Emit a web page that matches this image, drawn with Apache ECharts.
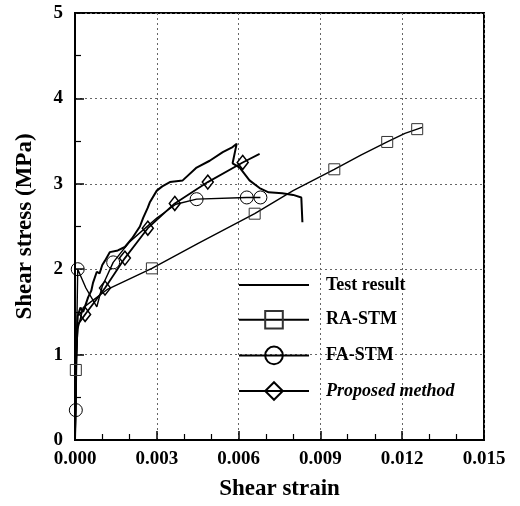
<!DOCTYPE html>
<html><head><meta charset="utf-8">
<script src="https://cdn.jsdelivr.net/npm/echarts@6/dist/echarts.min.js"></script>
<style>html,body{margin:0;padding:0;background:#fff}#c{width:520px;height:506px}</style>
</head><body><div id="c"></div>
<script>
// Test result (x strain, y MPa)
const testX = [0,0.00003,0.00005,0.00008,0.0001,0.0002,0.0003,0.00048,0.0006,0.00066,0.0008,0.0009,0.001,0.0011,0.00128,0.00157,0.00183,0.00209,0.00238,0.0025,0.00267,0.00274,0.003,0.0032,0.00348,0.00395,0.00446,0.00494,0.00542,0.00578,0.00593,0.00578,0.00604,0.0064,0.00677,0.0071,0.0076,0.0080,0.0083,0.00834];
const testY = [0,0.5,1.0,1.3,1.45,1.55,1.5,1.67,1.75,1.84,1.97,1.95,2.05,2.1,2.2,2.22,2.26,2.36,2.5,2.6,2.72,2.78,2.92,2.97,3.02,3.04,3.19,3.27,3.37,3.43,3.47,3.24,3.19,3.04,2.95,2.9,2.89,2.87,2.84,2.55];

const raX = [0,0.00003,0.0001,0.0003,0.00117,0.00282,0.0045,0.00659,0.008,0.00951,0.0105,0.01145,0.0121,0.01255,0.01273];
const raY = [0,0.82,1.3,1.55,1.76,2.01,2.3,2.65,2.92,3.17,3.34,3.49,3.59,3.64,3.66];
const raMark = [0,1,0,0,0,1,0,1,0,1,0,1,0,1,0];

const faX = [0,0.00003,0.00006,0.0001,0.0004,0.0008,0.001,0.0014,0.002,0.003,0.0037,0.00446,0.0063,0.0068];
const faY = [0,0.35,1.2,2.0,1.78,1.56,1.8,2.08,2.32,2.6,2.76,2.82,2.84,2.84];
const faMark = [0,1,0,1,0,0,0,1,0,0,0,1,1,1];

const pmX = [0,0.00005,0.0001,0.00037,0.0011,0.00183,0.00267,0.00366,0.00487,0.00615,0.00677];
const pmY = [0,1.0,1.35,1.47,1.78,2.13,2.48,2.77,3.02,3.25,3.35];
const pmMark = [0,0,0,1,1,1,1,1,1,1,0];

const xTicks = ['0.000','0.003','0.006','0.009','0.012','0.015'];
const yTicks = ['0','1','2','3','4','5'];

function pts(xs, ys, marks){
  return xs.map((x,i)=> (marks && marks[i]) ? {value:[x,ys[i]]} : {value:[x,ys[i]], symbol:'none'});
}
const serif = '"Liberation Serif","DejaVu Serif",serif';
const chart = echarts.init(document.getElementById('c'));
chart.setOption({
  animation:false,
  backgroundColor:'#fff',
  grid:{left:75,right:36,top:13,bottom:66,show:true,borderColor:'#000',borderWidth:2,backgroundColor:'transparent'},
  legend:{
    orient:'vertical', left:233, top:271, itemWidth:70, itemHeight:22, itemGap:16,
    data:[{name:'Test result',itemStyle:{color:'rgba(0,0,0,0)',borderColor:'rgba(0,0,0,0)',borderWidth:0}},
          'RA-STM','FA-STM','Proposed method'],
    formatter: n => n==='Proposed method' ? '{i|'+n+'}' : '{b|'+n+'}',
    textStyle:{color:'#000', padding:[0,0,0,12],
      rich:{b:{fontFamily:serif,fontWeight:'bold',fontSize:18,color:'#000'},
            i:{fontFamily:serif,fontWeight:'bold',fontStyle:'italic',fontSize:18,color:'#000'}}}
  },
  xAxis:{
    type:'value', min:0, max:0.015, interval:0.003,
    name:'Shear strain', nameLocation:'middle', nameGap:38,
    nameTextStyle:{fontFamily:serif,fontWeight:'bold',fontSize:23,color:'#000'},
    axisLine:{lineStyle:{color:'#000',width:2}},
    axisTick:{inside:true,length:9,lineStyle:{color:'#000',width:1.5}},
    minorTick:{show:true,splitNumber:3,length:6,lineStyle:{color:'#000',width:1.2}},
    axisLabel:{margin:10,fontFamily:serif,fontWeight:'bold',fontSize:19,color:'#000',
      formatter:(v)=>xTicks[Math.round(v/0.003)]},
    splitLine:{show:true,lineStyle:{color:'#666',type:[2,3],width:1}}
  },
  yAxis:{
    type:'value', min:0, max:5, interval:1,
    name:'Shear stress (MPa)', nameLocation:'middle', nameGap:38,
    nameTextStyle:{fontFamily:serif,fontWeight:'bold',fontSize:23,color:'#000'},
    axisLine:{lineStyle:{color:'#000',width:2}},
    axisTick:{inside:true,length:9,lineStyle:{color:'#000',width:1.5}},
    minorTick:{show:true,splitNumber:2,length:6,lineStyle:{color:'#000',width:1.2}},
    axisLabel:{margin:12,fontFamily:serif,fontWeight:'bold',fontSize:19,color:'#000',
      formatter:(v)=>yTicks[Math.round(v)]},
    splitLine:{show:true,lineStyle:{color:'#666',type:[2,3],width:1}}
  },
  series:[
    {name:'Test result',type:'line',symbol:'none',data:pts(testX,testY,null),
     lineStyle:{color:'#000',width:2},itemStyle:{color:'#000'}},
    {name:'RA-STM',type:'line',symbol:'rect',symbolSize:11,data:pts(raX,raY,raMark),
     lineStyle:{color:'#000',width:1.4},itemStyle:{color:'rgba(255,255,255,0)',borderColor:'#333',borderWidth:1}},
    {name:'FA-STM',type:'line',symbol:'circle',symbolSize:13,data:pts(faX,faY,faMark),
     lineStyle:{color:'#000',width:1.4},itemStyle:{color:'rgba(255,255,255,0)',borderColor:'#000',borderWidth:1}},
    {name:'Proposed method',type:'line',symbol:'diamond',symbolSize:[11,14],data:pts(pmX,pmY,pmMark),
     lineStyle:{color:'#000',width:1.8},itemStyle:{color:'rgba(255,255,255,0)',borderColor:'#000',borderWidth:1.5}}
  ]
});
</script></body></html>
